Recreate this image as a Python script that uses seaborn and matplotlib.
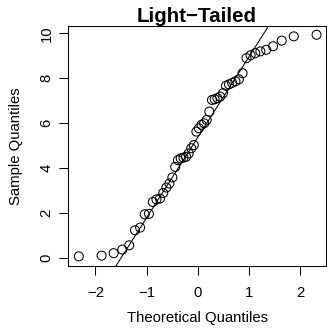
import statistics
import numpy as np
import pandas as pd
import matplotlib
matplotlib.use("Agg")
import matplotlib.pyplot as plt
import seaborn as sns

# ---- data (sorted sample values) ----
sample_values = [0.07, 0.10, 0.21, 0.37, 0.56, 1.23, 1.35, 1.94, 1.96, 2.49,
                 2.60, 2.64, 2.89, 3.13, 3.31, 3.58, 4.05, 4.35, 4.43, 4.46,
                 4.50, 4.65, 4.88, 5.02, 5.62, 5.77, 5.92, 5.99, 6.14, 6.51,
                 7.03, 7.06, 7.11, 7.18, 7.33, 7.66, 7.72, 7.79, 7.86, 7.95,
                 8.22, 8.89, 9.02, 9.11, 9.19, 9.26, 9.42, 9.67, 9.86, 9.93]
x_ticks = [-2, -1, 0, 1, 2]
y_ticks = [0, 2, 4, 6, 8, 10]
title = "Light\u2212Tailed"
x_label = "Theoretical Quantiles"
y_label = "Sample Quantiles"

# ---- theoretical quantiles (as R's qqnorm with ppoints) ----
n = len(sample_values)
nd = statistics.NormalDist()
theo = [nd.inv_cdf((i + 0.5) / n) for i in range(n)]
df = pd.DataFrame({"theoretical": theo, "sample": sorted(sample_values)})

# qqline through first and third quartiles
y_q = np.quantile(df["sample"], [0.25, 0.75])
x_q = [nd.inv_cdf(0.25), nd.inv_cdf(0.75)]
slope = (y_q[1] - y_q[0]) / (x_q[1] - x_q[0])
intercept = y_q[0] - slope * x_q[0]

sns.set_theme(style="ticks")
plt.rcParams["font.family"] = ["Liberation Sans", "DejaVu Sans"]
plt.rcParams["axes.unicode_minus"] = True

W, H = 327, 330
fig = plt.figure(figsize=(W / 100, H / 100), dpi=100)
ax = fig.add_axes([68 / W, (H - 266) / H, 258 / W, 240 / H])

xlim = (-2.538, 2.511)
ylim = (-0.36, 10.32)

sns.scatterplot(data=df, x="theoretical", y="sample", ax=ax, marker="o",
                s=42, facecolor="none", edgecolor="black", linewidth=0.75,
                legend=False)
line_df = pd.DataFrame({"x": list(xlim),
                        "y": [intercept + slope * v for v in xlim]})
sns.lineplot(data=line_df, x="x", y="y", ax=ax, color="black",
             linewidth=0.75, legend=False)

ax.set_xlim(*xlim)
ax.set_ylim(*ylim)
ax.set_xticks(x_ticks)
ax.set_yticks(y_ticks)
ax.set_xticklabels([f"{v}".replace("-", "\u2212") for v in x_ticks])
ax.set_yticklabels([str(v) for v in y_ticks], rotation=90, va="center")

for sp in ax.spines.values():
    sp.set_visible(True)
    sp.set_color("black")
    sp.set_linewidth(0.75)

ax.tick_params(axis="both", direction="out", length=6.5, width=0.75,
               color="black", labelsize=10.7, labelcolor="black")
ax.tick_params(axis="x", pad=8)
ax.tick_params(axis="y", pad=4)

ax.set_xlabel(x_label, fontsize=10.7, color="black", va="center")
ax.xaxis.set_label_coords(0.5, (266 - 318) / 240)
ax.set_ylabel(y_label, fontsize=10.7, color="black", va="center")
ax.yaxis.set_label_coords((16 - 68) / 258, 0.5)

ax.text(0.5, 1 + 4 / 240, title, transform=ax.transAxes, ha="center",
        va="baseline", fontsize=14.8, fontweight="bold", color="black")

fig.savefig("out.png", dpi=100)
